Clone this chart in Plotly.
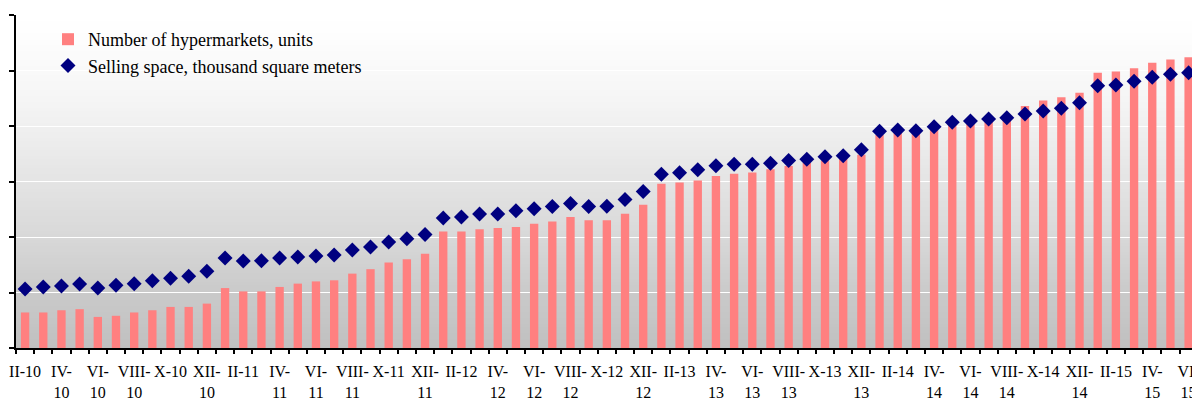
import numpy as np
import plotly.graph_objects as go

# Month categories: February 2010 through June 2015
roman = ["I", "II", "III", "IV", "V", "VI", "VII", "VIII", "IX", "X", "XI", "XII"]
months = []
for year in range(2010, 2016):
    for m in range(12):
        if (year == 2010 and m < 1) or (year == 2015 and m > 5):
            continue
        months.append(f"{roman[m]}-{year % 100:02d}")

# Number of hypermarkets, units
hypermarkets = [
    32, 32, 34, 35, 28, 29, 32, 34, 37, 37,
    40, 54, 51, 51, 55, 58, 60, 61, 67, 71,
    77, 80, 85, 105, 105, 107, 108, 109, 112, 114,
    118, 115, 115, 121, 129, 148, 149, 151, 155, 157,
    158, 161, 164, 167, 169, 171, 174, 192, 194, 195,
    199, 202, 203, 205, 208, 218, 223, 226, 230, 248,
    249, 252, 257, 260, 262,
]

# Selling space, thousand square meters
selling_space = [
    53.2, 55.0, 55.9, 57.7, 54.1, 56.5, 57.9, 60.6, 62.8, 64.6,
    69.1, 81.1, 78.4, 78.6, 81.1, 82.0, 82.9, 83.8, 88.3, 91.0,
    95.5, 98.5, 102.3, 117.1, 118.0, 120.7, 120.7, 123.7, 125.5, 127.5,
    130.2, 127.5, 127.7, 133.7, 140.9, 156.5, 157.9, 160.5, 164.2, 165.5,
    165.5, 166.4, 168.9, 170.0, 172.3, 173.2, 178.6, 195.2, 196.4, 195.8,
    199.4, 203.3, 204.5, 206.3, 207.5, 210.8, 213.5, 215.9, 221.0, 236.3,
    236.9, 240.3, 243.9, 246.6, 248.0,
]

# Every second month is labelled; long labels wrap onto a second line
single_line = {"II", "X"}
tick_text = []
for i, name in enumerate(months):
    if i % 2:
        tick_text.append("")
        continue
    mon, yy = name.split("-")
    tick_text.append(name if mon in single_line else f"{mon}-<br>{yy}")

FONT = "Liberation Serif"
W, H = 1192, 401
M_L, M_R, M_T, M_B = 16, 0, 15, 53

fig = go.Figure()
fig.add_trace(go.Bar(
    x=months, y=hypermarkets,
    name="Number of hypermarkets, units",
    marker=dict(color="#ff8080", line=dict(width=0)),
    width=0.46,
))
fig.add_trace(go.Scatter(
    x=months, y=selling_space,
    mode="markers",
    name="Selling space, thousand square meters",
    marker=dict(symbol="diamond", size=11.5, color="#000080", line=dict(width=0)),
    cliponaxis=False,
))

# Vertical white-to-grey gradient behind the plot area
top_px, bot_px = M_T, H - M_B
grad_px = [15, 40, 100, 125, 181, 237, 292, 348]
grad_val = [255, 253, 245, 240, 228, 216, 202, 192]
n_bands = 111
shapes = []
for k in range(n_bands):
    y0 = k / n_bands
    y1 = min(1.0, (k + 1.6) / n_bands)
    px = bot_px - (k + 0.5) / n_bands * (bot_px - top_px)
    g = int(round(np.interp(px, grad_px, grad_val)))
    shapes.append(dict(
        type="rect", xref="paper", yref="paper",
        x0=0, x1=1, y0=y0, y1=y1,
        fillcolor=f"rgb({g},{g},{g})", line=dict(width=0), layer="below",
    ))

cat_px = 18.18
x_span = (W - M_L - M_R) / cat_px

fig.update_layout(
    width=W, height=H,
    margin=dict(l=M_L, r=M_R, t=M_T, b=M_B),
    paper_bgcolor="white",
    plot_bgcolor="white",
    shapes=shapes,
    showlegend=True,
    legend=dict(
        x=(48 - M_L) / (W - M_L - M_R), xanchor="left",
        y=0.982, yanchor="top",
        bgcolor="rgba(0,0,0,0)",
        font=dict(family=FONT, size=18, color="black"),
        tracegroupgap=0,
    ),
    font=dict(family=FONT, color="black"),
)

fig.update_xaxes(
    type="category",
    categoryorder="array", categoryarray=months,
    range=[-0.5, -0.5 + x_span],
    tickmode="array", tickvals=months, ticktext=tick_text,
    tickson="boundaries",
    ticks="outside", ticklen=4, tickwidth=1.5, tickcolor="black",
    tickangle=0,
    ticklabelstandoff=8,
    tickfont=dict(family=FONT, size=16, color="black"),
    showline=True, linecolor="black", linewidth=2,
    showgrid=False, zeroline=False,
    automargin=False,
)

fig.update_yaxes(
    range=[0, 300], tick0=0, dtick=50,
    showticklabels=False,
    ticks="outside", ticklen=5, tickwidth=1.5, tickcolor="black",
    showline=True, linecolor="black", linewidth=2,
    showgrid=True, gridcolor="white", gridwidth=1,
    zeroline=False,
    automargin=False,
)

fig.write_html("out.html")
